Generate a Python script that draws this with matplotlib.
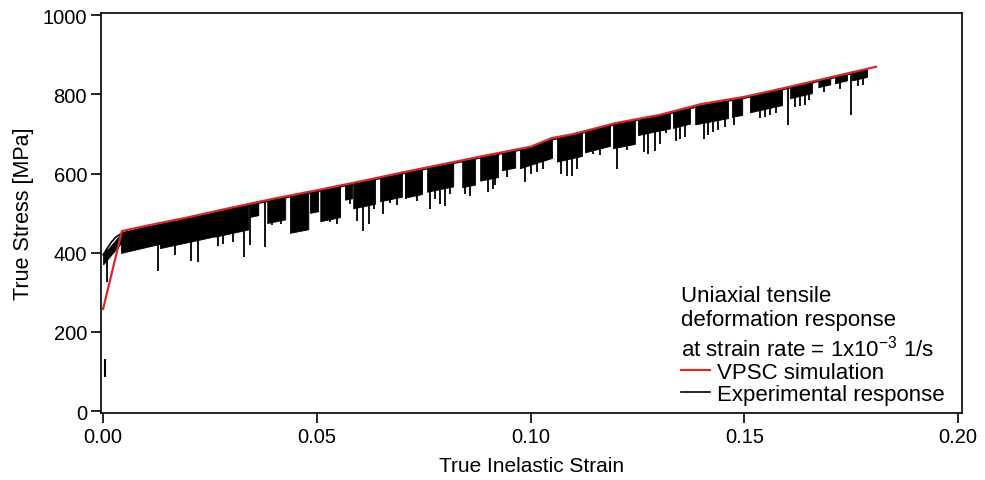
import numpy as np
import matplotlib
matplotlib.use("Agg")
import matplotlib.pyplot as plt

plt.rcParams['font.family'] = ['Liberation Sans', 'DejaVu Sans']

# VPSC simulation (red line)
vpsc_strain = [0.0, 0.0044, 0.01, 0.02, 0.03, 0.04, 0.05, 0.06, 0.07, 0.08, 0.09,
               0.10, 0.105, 0.11, 0.12, 0.13, 0.14, 0.15, 0.16, 0.17, 0.1808]
vpsc_stress = [258, 455, 468, 490, 514, 537, 558, 580, 603, 625, 647,
               668, 690, 700, 728, 748, 776, 794, 818, 843, 870]

# experimental response: upper edge of the serrated curve
exp_strain = [0.0, 0.001, 0.002, 0.003, 0.0044, 0.01, 0.02, 0.03, 0.04, 0.05, 0.06,
              0.07, 0.08, 0.09, 0.10, 0.105, 0.11, 0.12, 0.13, 0.14, 0.15, 0.16,
              0.17, 0.1787]
exp_stress = [395, 412, 428, 440, 450, 464, 487, 511, 534, 555, 577,
              600, 622, 644, 665, 686, 697, 725, 745, 772, 791, 815,
              840, 862]

# dense relaxation bands: start strain, end strain, lowest stress
band_start = [0.0, 0.0042, 0.0133, 0.0204, 0.0262, 0.0344, 0.0384, 0.0437, 0.0484, 0.0508,
              0.0566, 0.0585, 0.0648, 0.0706, 0.0758, 0.084, 0.0882, 0.0933, 0.0975, 0.1062,
              0.1127, 0.1193, 0.1251, 0.1333, 0.1385, 0.1471, 0.1513, 0.1607, 0.1673, 0.1712,
              0.1752]
band_end = [0.0042, 0.0133, 0.0204, 0.0262, 0.0339, 0.0363, 0.0426, 0.048, 0.0503, 0.0554,
            0.0582, 0.0636, 0.0699, 0.0746, 0.0819, 0.087, 0.0924, 0.0964, 0.105, 0.112,
            0.1186, 0.1244, 0.1326, 0.1373, 0.1462, 0.1495, 0.1588, 0.1658, 0.1701, 0.174,
            0.1787]
band_low = [405, 412, 420, 435, 450, 493, 480, 455, 503, 485,
            536, 518, 536, 544, 561, 569, 587, 612, 624, 637,
            662, 670, 705, 721, 733, 746, 764, 797, 822, 832,
            840]

# individual deep stress drops: strain, lowest stress
drop_strain = [0.0009, 0.0129, 0.0168, 0.0206, 0.0222, 0.0269, 0.0281, 0.0304, 0.033, 0.0344,
               0.0379, 0.0449, 0.0473, 0.0554, 0.0578, 0.0594, 0.0608, 0.0622, 0.0634, 0.0655,
               0.0709, 0.0765, 0.0777, 0.0788, 0.08, 0.0847, 0.0858, 0.0901, 0.0912, 0.0945,
               0.0987, 0.1029, 0.1071, 0.1085, 0.1097, 0.1109, 0.1202, 0.1266, 0.1275, 0.1291,
               0.1303, 0.134, 0.135, 0.1361, 0.1406, 0.1415, 0.1427, 0.1439, 0.1476, 0.1537,
               0.1549, 0.156, 0.1602, 0.1619, 0.163, 0.1642, 0.1687, 0.1724, 0.175, 0.1766,
               0.1778, 0.0395, 0.0415, 0.0531, 0.0546, 0.0672, 0.0688, 0.0735, 0.0812, 0.0917,
               0.1002, 0.1016, 0.1145, 0.1163, 0.1225, 0.1317, 0.1455, 0.1575, 0.1651]
drop_stress = [326, 354, 394, 379, 377, 417, 422, 427, 389, 420,
               415, 453, 458, 490, 523, 480, 455, 473, 511, 498,
               536, 511, 536, 523, 518, 549, 544, 554, 561, 592,
               579, 612, 599, 594, 594, 612, 612, 655, 650, 657,
               675, 683, 688, 693, 688, 698, 705, 711, 723, 741,
               743, 748, 723, 769, 771, 774, 807, 814, 748, 822,
               824, 470, 474, 478, 472, 525, 522, 532, 548, 572,
               600, 604, 650, 648, 660, 702, 718, 752, 785]

# stray points near zero strain
start_strain = [0.0005, 0.0005]
start_stress = [90, 130]

red = '#d42a2f'

fig = plt.figure(figsize=(9.85, 4.81), dpi=100)
ax = fig.add_axes([0.1025, 0.139, 0.8741, 0.832])

# each band hangs below the upper edge with a constant depth
for s0, s1, lo in zip(band_start, band_end, band_low):
    xs = np.array([s0, s1])
    upper = np.interp(xs, exp_strain, exp_stress)
    depth = np.interp((s0 + s1) / 2, exp_strain, exp_stress) - lo
    ax.fill_between(xs, upper - depth, upper, color='black', lw=0.6, zorder=2)

top = np.interp(drop_strain, exp_strain, exp_stress)
ax.vlines(drop_strain, drop_stress, top, color='black', lw=1.3, zorder=2)
ax.plot(start_strain, start_stress, color='black', lw=1.5, zorder=2)
ax.plot(exp_strain, exp_stress, color='black', lw=1.2, zorder=2, label='Experimental response')
ax.plot(vpsc_strain, vpsc_stress, color=red, lw=1.6, zorder=3, label='VPSC simulation')

ax.set_xlim(-0.0005, 0.2009)
ax.set_ylim(-5, 1006)
ax.set_xticks([0.0, 0.05, 0.10, 0.15, 0.20])
ax.set_xticklabels(['0.00', '0.05', '0.10', '0.15', '0.20'])
ax.set_yticks([0, 200, 400, 600, 800, 1000])
ax.tick_params(direction='out', length=7, width=1.2, labelsize=14.5, pad=3)
for sp in ax.spines.values():
    sp.set_linewidth(1.2)
ax.set_xlabel('True Inelastic Strain', fontsize=15, labelpad=7.5)
ax.set_ylabel('True Stress [MPa]', fontsize=15.5, labelpad=6)

handles, labels = ax.get_legend_handles_labels()
leg = ax.legend(handles[::-1], labels[::-1], loc='lower right', bbox_to_anchor=(0.998, -0.018),
                frameon=False, fontsize=16, handlelength=1.3, handletextpad=0.3,
                labelspacing=0.05, borderpad=0.2,
                title='Uniaxial tensile\ndeformation response\nat strain rate = 1x10$^{\\mathregular{-3}}$ 1/s',
                title_fontsize=16, alignment='left')

fig.savefig('out.png', dpi=100)
